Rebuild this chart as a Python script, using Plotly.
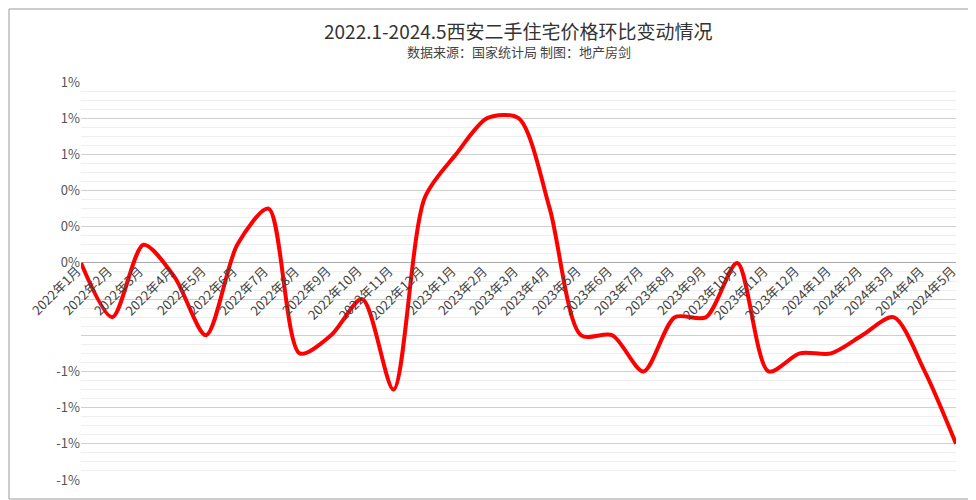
import plotly.graph_objects as go

months = ["2022年1月","2022年2月","2022年3月","2022年4月","2022年5月","2022年6月","2022年7月","2022年8月","2022年9月","2022年10月","2022年11月","2022年12月",
          "2023年1月","2023年2月","2023年3月","2023年4月","2023年5月","2023年6月","2023年7月","2023年8月","2023年9月","2023年10月","2023年11月","2023年12月",
          "2024年1月","2024年2月","2024年3月","2024年4月","2024年5月"]
values = [0.0,-0.3,0.1,-0.08,-0.4,0.1,0.3,-0.5,-0.4,-0.2,-0.7,0.36,
          0.6,0.8,0.8,0.3,-0.4,-0.4,-0.6,-0.3,-0.3,0.0,-0.6,-0.5,
          -0.5,-0.4,-0.3,-0.6,-1.0]
tickvals = [1.0,0.8,0.6,0.4,0.2,0.0,-0.2,-0.4,-0.6,-0.8,-1.0,-1.2]
ticktext = ["1%","1%","1%","0%","0%","0%","","","-1%","-1%","-1%","-1%"]

fig = go.Figure(go.Scatter(x=months, y=values, mode="lines",
                           line=dict(color="#ff0000", width=4, shape="spline", smoothing=0.8),
                           hoverinfo="x+y"))
for m in months:
    fig.add_annotation(x=m, y=0, text=m, showarrow=False, textangle=-45,
                       xanchor="right", yanchor="top", xshift=6, yshift=4,
                       font=dict(size=13, color="#444"))
fig.add_annotation(xref="paper", yref="paper", x=0.5, y=1+52/398, text="2022.1-2024.5西安二手住宅价格环比变动情况",
                   showarrow=False, font=dict(size=19, color="#333"), xanchor="center", yanchor="middle")
fig.add_annotation(xref="paper", yref="paper", x=0.5, y=1+31/398, text="数据来源：国家统计局 制图：地产房剑",
                   showarrow=False, font=dict(size=13, color="#444"), xanchor="center", yanchor="middle")
fig.update_layout(
    width=976, height=500, plot_bgcolor="white", paper_bgcolor="white",
    margin=dict(l=73, r=28, t=74, b=28, autoexpand=False),
    font=dict(family="Noto Sans CJK SC", color="#444"),
    showlegend=False,
    shapes=[dict(type="rect", xref="paper", yref="paper", x0=-72/875, x1=1+26/875, y0=-19/398, y1=1+73/398,
                 line=dict(color="#999", width=1))],
)
fig.update_xaxes(range=[0, 28], showticklabels=False, showgrid=False, zeroline=False,
                 showline=False)
fig.update_yaxes(range=[-1.2, 1.0], tickvals=tickvals, ticktext=ticktext,
                 gridcolor="#d0d0d0", zeroline=True, zerolinecolor="#aaa", zerolinewidth=1,
                 tickfont=dict(size=13, color="#555"),
                 minor=dict(dtick=0.05, showgrid=True, gridcolor="#eeeeee"))
fig.write_html("out.html")
